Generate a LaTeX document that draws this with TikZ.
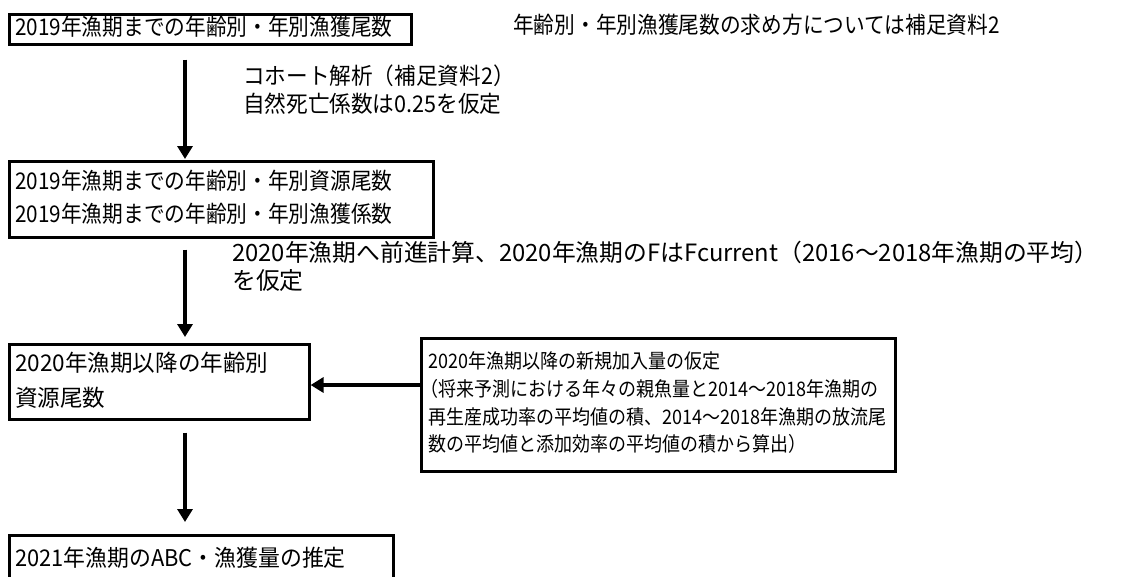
\documentclass[tikz,border=0pt]{standalone}
\usepackage{fontspec}
\setmainfont{Noto Sans CJK JP}
\usetikzlibrary{arrows.meta}
\newcommand\sqz[2]{\scalebox{#1}[1]{\begin{tabular}{@{}l@{}}#2\end{tabular}}}
\begin{document}
\begin{tikzpicture}[x=1pt,y=-1pt,
  box/.style={draw=black,line width=2.6pt,anchor=north west,inner xsep=6pt,inner ysep=0pt,align=left},
  lbl/.style={anchor=west,inner sep=0pt,align=left},
  arr/.style={line width=3.8pt,-{Triangle[length=13pt,width=15pt]}}]
\useasboundingbox (0,0) rectangle (1126,576);
\node[box,text width=390pt,minimum height=30pt,font=\fontsize{23}{26}\selectfont] (b1) at (8,13) {\sqz{0.90}{2019年漁期までの年齢別・年別漁獲尾数}};
\node[lbl,font=\fontsize{23}{26}\selectfont] (note) at (513,28) {\sqz{0.90}{年齢別・年別漁獲尾数の求め方については補足資料2}};
\node[box,text width=412pt,minimum height=76pt,font=\fontsize{23}{33}\selectfont] (b2) at (8,160) {\sqz{0.90}{2019年漁期までの年齢別・年別資源尾数\\2019年漁期までの年齢別・年別漁獲係数}};
\node[lbl,font=\fontsize{23}{25.5}\selectfont] (l1) at (243,92.5) {\sqz{0.94}{コホート解析（補足資料2）\\自然死亡係数は0.25を仮定}};
\node[lbl,font=\fontsize{23.8}{26}\selectfont] (l2) at (232,269) {\sqz{1.0}{2020年漁期へ前進計算、2020年漁期のFはFcurrent（2016～2018年漁期の平均）\\を仮定}};
\node[box,text width=288pt,minimum height=75pt,font=\fontsize{23}{35}\selectfont] (b3) at (8,343) {\sqz{0.98}{2020年漁期以降の年齢別\\資源尾数}};
\node[box,inner xsep=7pt,text width=460pt,minimum height=133pt,font=\fontsize{20}{27.7}\selectfont] (b4) at (420,337) {\sqz{0.9}{2020年漁期以降の新規加入量の仮定\\\hspace*{-0.45em}（将来予測における年々の親魚量と2014～2018年漁期の\\再生産成功率の平均値の積、2014～2018年漁期の放流尾\\数の平均値と添加効率の平均値の積から算出）}};
\node[box,text width=372pt,minimum height=50pt,font=\fontsize{23}{26}\selectfont] (b5) at (8,534) {\raisebox{7pt}{\sqz{0.95}{2021年漁期のABC・漁獲量の推定}}};
\coordinate (cx) at (185,0);
\coordinate (hy) at (0,385);
\draw[arr,shorten <=14pt,shorten >=1pt] (b1.south -| cx) -- (b2.north -| cx);
\draw[arr,shorten <=11pt,shorten >=6pt] (b2.south -| cx) -- (b3.north -| cx);
\draw[arr,shorten <=12pt,shorten >=12pt] (b3.south -| cx) -- (b5.north -| cx);
\draw[arr] (b4.west |- hy) -- (b3.east |- hy);
\end{tikzpicture}
\end{document}
